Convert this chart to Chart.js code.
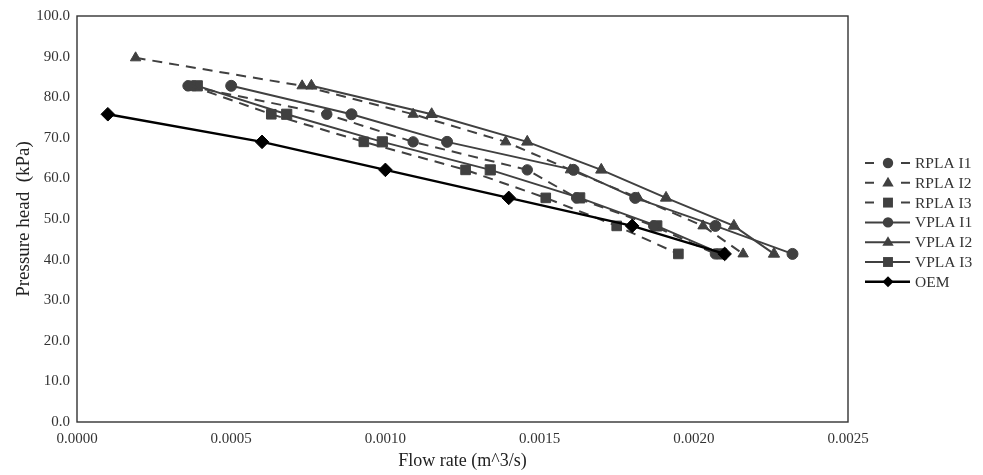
<!DOCTYPE html>
<html>
<head>
<meta charset="utf-8">
<script src="https://cdn.jsdelivr.net/npm/chart.js@4/dist/chart.umd.min.js"></script>
<style>
  html, body { margin: 0; padding: 0; background: #fff; }
  #wrap { width: 983px; height: 475px; }
</style>
</head>
<body>
<div id="wrap"><canvas id="chart" width="983" height="475"></canvas></div>
<script>
// ---- data (flow in m^3/s, pressure in kPa) ----
const seriesNames = ['RPLA I1', 'RPLA I2', 'RPLA I3', 'VPLA I1', 'VPLA I2', 'VPLA I3', 'OEM'];

const pressureLevels = [82.8, 75.8, 69.0, 62.1, 55.2, 48.3, 41.4];
const rplaI2Pressure = [89.7, 82.8, 75.8, 69.0, 62.1, 55.2, 48.3, 41.4];
const oemPressure = [75.8, 69.0, 62.1, 55.2, 48.3, 41.4];

const rplaI1Flow = [0.00036, 0.00081, 0.00109, 0.00146, 0.00162, 0.00187, 0.00207];
const rplaI2Flow = [0.00019, 0.00073, 0.00109, 0.00139, 0.00160, 0.00182, 0.00203, 0.00216];
const rplaI3Flow = [0.00037, 0.00063, 0.00093, 0.00126, 0.00152, 0.00175, 0.00195];
const vplaI1Flow = [0.00050, 0.00089, 0.00120, 0.00161, 0.00181, 0.00207, 0.00232];
const vplaI2Flow = [0.00076, 0.00115, 0.00146, 0.00170, 0.00191, 0.00213, 0.00226];
const vplaI3Flow = [0.00039, 0.00068, 0.00099, 0.00134, 0.00163, 0.00188, 0.00209];
const oemFlow = [0.0001, 0.0006, 0.0010, 0.0014, 0.0018, 0.0021];

const xTicks = [0, 0.0005, 0.0010, 0.0015, 0.0020, 0.0025];
const yTicks = [0, 10, 20, 30, 40, 50, 60, 70, 80, 90, 100];

const GRAY = '#404040';
const BLACK = '#000000';
const SERIF = "'Liberation Serif', 'Times New Roman', serif";
const DASH = [10, 7];

const pts = (xs, ys) => xs.map((x, i) => ({ x, y: ys[i] }));

function series(label, data, dashed, style, radius, color, width, order) {
    return {
        label, data,
        showLine: true,
        borderColor: color,
        backgroundColor: color,
        borderWidth: width,
        borderDash: dashed ? DASH : [],
        pointStyle: style,
        pointRadius: radius,
        pointHoverRadius: radius,
        pointBackgroundColor: color,
        pointBorderColor: color,
        pointBorderWidth: 1,
        tension: 0,
        order,
    };
}

const datasets = [
    series(seriesNames[0], pts(rplaI1Flow, pressureLevels), true, 'circle', 5.2, GRAY, 2, 1),
    series(seriesNames[1], pts(rplaI2Flow, rplaI2Pressure), true, 'triangle', 6, GRAY, 2, 1),
    series(seriesNames[2], pts(rplaI3Flow, pressureLevels), true, 'rect', 6.8, GRAY, 2, 1),
    series(seriesNames[3], pts(vplaI1Flow, pressureLevels), false, 'circle', 5.5, GRAY, 2, 1),
    series(seriesNames[4], pts(vplaI2Flow, pressureLevels), false, 'triangle', 6.5, GRAY, 2, 1),
    series(seriesNames[5], pts(vplaI3Flow, pressureLevels), false, 'rect', 7.2, GRAY, 2, 1),
    series(seriesNames[6], pts(oemFlow, oemPressure), false, 'rectRot', 6.8, BLACK, 2.5, 0),
];

// ---- frame around the plot area ----
const framePlugin = {
    id: 'frame',
    afterDatasetsDraw(chart) {
        const { ctx, chartArea: a } = chart;
        ctx.save();
        ctx.strokeStyle = '#333';
        ctx.lineWidth = 1.4;
        ctx.strokeRect(a.left, a.top, a.right - a.left, a.bottom - a.top);
        ctx.restore();
    }
};

// ---- legend: line sample + marker + text ----
function drawMarker(ctx, style, r, x, y) {
    ctx.beginPath();
    if (style === 'circle') {
        ctx.arc(x, y, r, 0, Math.PI * 2);
    } else if (style === 'triangle') {
        ctx.moveTo(x, y - r);
        ctx.lineTo(x + r * 0.95, y + r * 0.6);
        ctx.lineTo(x - r * 0.95, y + r * 0.6);
        ctx.closePath();
    } else if (style === 'rect') {
        const s = r * Math.SQRT1_2;
        ctx.rect(x - s, y - s, 2 * s, 2 * s);
    } else if (style === 'rectRot') {
        ctx.moveTo(x - r, y);
        ctx.lineTo(x, y - r);
        ctx.lineTo(x + r, y);
        ctx.lineTo(x, y + r);
        ctx.closePath();
    }
    ctx.fill();
}

const legendPlugin = {
    id: 'sideLegend',
    afterDraw(chart) {
        const { ctx } = chart;
        const x0 = 865, x1 = 910, xm = 888, xt = 915;
        const top = 163, step = 19.8;
        ctx.save();
        ctx.font = '15.5px ' + SERIF;
        ctx.textBaseline = 'middle';
        ctx.textAlign = 'left';
        chart.data.datasets.forEach((ds, i) => {
            const y = top + i * step;
            ctx.strokeStyle = ds.borderColor;
            ctx.fillStyle = ds.borderColor;
            ctx.lineWidth = ds.borderWidth;
            ctx.setLineDash([]);
            ctx.beginPath();
            if (ds.borderDash.length) {
                ctx.moveTo(x0, y); ctx.lineTo(x0 + 9, y);
                ctx.moveTo(x1 - 9, y); ctx.lineTo(x1, y);
            } else {
                ctx.moveTo(x0, y); ctx.lineTo(x1, y);
            }
            ctx.stroke();
            const style = ds.pointStyle;
            const r = style === 'rectRot' ? 5.5 : style === 'rect' ? 7 : style === 'triangle' ? 6 : 5.2;
            drawMarker(ctx, style, r, xm, y);
            ctx.fillStyle = '#333';
            ctx.fillText(ds.label, xt, y + 1);
        });
        ctx.restore();
    }
};

new Chart(document.getElementById('chart').getContext('2d'), {
    type: 'scatter',
    data: { datasets },
    options: {
        responsive: false,
        animation: false,
        events: [],
        layout: { padding: { top: 14, right: 135, bottom: 0, left: 0 } },
        plugins: {
            legend: { display: false },
            tooltip: { enabled: false },
        },
        scales: {
            x: {
                type: 'linear',
                min: 0, max: 0.0025,
                afterBuildTicks: s => { s.ticks = xTicks.map(v => ({ value: v })); },
                afterFit: s => { s.height = 53; },
                grid: { display: false, drawTicks: false },
                border: { display: false },
                ticks: {
                    padding: 8,
                    color: '#333',
                    font: { family: SERIF, size: 15 },
                    callback: v => Number(v).toFixed(4),
                },
                title: {
                    display: true,
                    text: 'Flow rate (m^3/s)',
                    color: '#222',
                    font: { family: SERIF, size: 18 },
                    padding: { top: 0, bottom: 3 },
                },
            },
            y: {
                type: 'linear',
                min: 0, max: 100,
                afterBuildTicks: s => { s.ticks = yTicks.map(v => ({ value: v })); },
                afterFit: s => { s.width = 77; },
                grid: { display: false, drawTicks: false },
                border: { display: false },
                ticks: {
                    padding: 7,
                    color: '#333',
                    font: { family: SERIF, size: 15 },
                    callback: v => Number(v).toFixed(1),
                },
                title: {
                    display: true,
                    text: 'Pressure head  (kPa)',
                    color: '#222',
                    font: { family: SERIF, size: 19 },
                    padding: { top: 13, bottom: 0 },
                },
            },
        },
    },
    plugins: [framePlugin, legendPlugin],
});
</script>
</body>
</html>
